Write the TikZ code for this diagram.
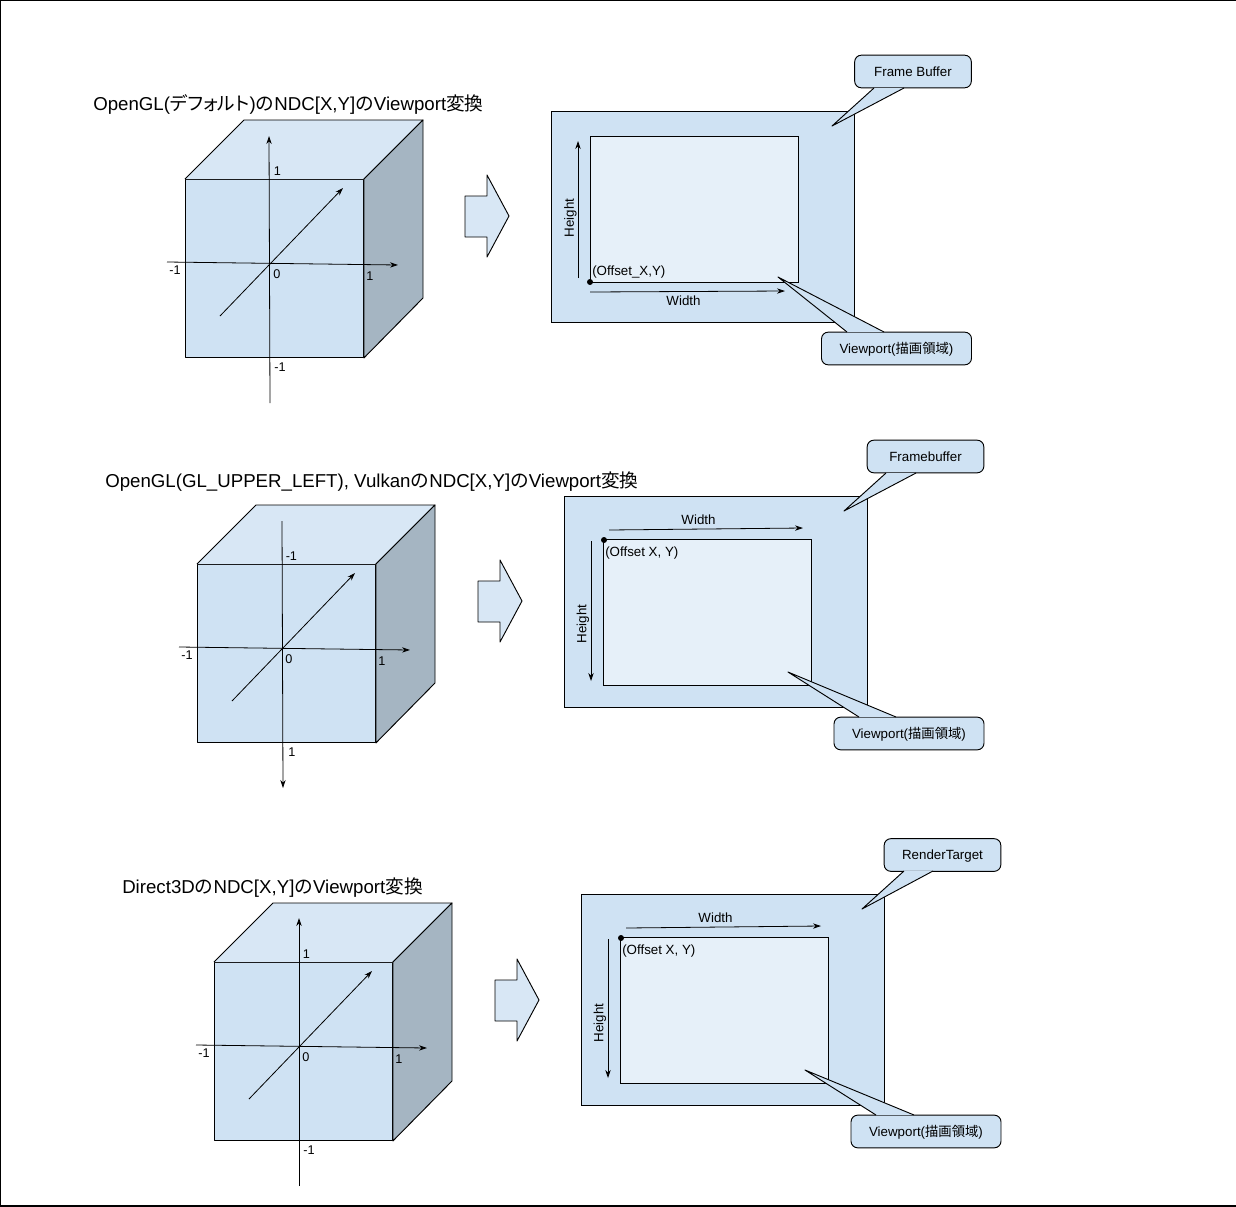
\documentclass[tikz,border=0pt]{standalone}
\usepackage{fontspec}
\setmainfont{Liberation Sans}
\newfontfamily\cjk{Noto Sans CJK JP}
\newfontfamily\kana[RawFeature={+palt}]{Noto Sans CJK JP}
\usetikzlibrary{arrows.meta}

\definecolor{paleblue}{HTML}{CFE2F3}
\definecolor{topblue}{HTML}{D8E7F5}
\definecolor{sideblue}{HTML}{A5B5C2}
\definecolor{innerblue}{HTML}{E6F0F9}

\tikzset{
  axis/.style={-{Stealth[length=6pt,width=4pt]},line width=.6pt},
  label/.style={inner sep=0pt,text height=6.8pt,text depth=0pt,font=\fontsize{9.5}{11}\selectfont},
  small/.style={inner sep=0pt,text height=7.2pt,text depth=0pt,font=\fontsize{10}{12}\selectfont},
  title/.style={inner sep=0pt,anchor=west,text height=10pt,text depth=0pt,font=\fontsize{14}{17}\selectfont},
  outer/.style={draw,fill=paleblue,line width=.7pt,minimum width=227.25pt,minimum height=158.25pt,inner sep=0pt},
  inner/.style={draw,fill=innerblue,line width=.7pt,minimum width=156pt,minimum height=109.5pt,inner sep=0pt},
  face/.style={draw,line width=.7pt,line join=round},
  bubble/.style={draw,fill=paleblue,line width=.7pt,rounded corners=5pt,minimum height=24.5pt,inner sep=0pt,text height=7.2pt,text depth=0pt,font=\fontsize{10}{12}\selectfont},
  dot/.style={circle,fill=black,minimum size=4.5pt,inner sep=0pt}
}

% cube with its axes: name, x, y of front corner, label on top, label at bottom
\newcommand{\ndccube}[5]{
  \begin{scope}[shift={(#2,#3)}]
    \node[face,fill=paleblue,minimum size=133.5pt,inner sep=0pt,anchor=north west] (#1front) at (0,0) {};
    \fill[topblue] (#1front.north west) -- (59,-59) -- (238,-59) -- (#1front.north east) -- cycle;
    \draw[face] (#1front.north west) -- (59,-59) -- (238,-59) -- (#1front.north east);
    \draw[face,fill=sideblue] (#1front.north east) -- (238,-59) -- (238,119) -- (#1front.south east) -- cycle;
    \coordinate (#1xl) at (-18,83);
    \coordinate (#1xr) at (213,86);
    \coordinate (#1zl) at (35,137);
    \coordinate (#1zr) at (158,9);
    \draw[axis] (#1xl) -- (#1xr);
    \draw[axis] (#1zl) -- (#1zr);
    \node[label,anchor=west] (#1top) at (88.5,-8) {#4};
    \node[label] (#1left) at (-10,90.5) {-1};
    \node[label] (#1zero) at (92,94.5) {0};
    \node[label] (#1right) at (185,96.5) {1};
    \node[label] (#1bottom) at (95,188) {#5};
  \end{scope}
}

% block arrow between cube and frame
\newcommand{\blockarrow}[2]{
  \draw[face,fill=topblue,shift={(#1,#2)}] (0,21) -- (22,21) -- (22,0) -- (44,41) -- (22,82) -- (22,62) -- (0,62) -- cycle;
}

% tail of a bubble: bubble name, base left, tip, base right
\newcommand{\bubbletail}[4]{
  \fill[paleblue] (#2) -- (#3) -- (#4) -- cycle;
  \draw[line width=.7pt,line join=round] (#2) -- (#3) -- (#4);
}

\begin{document}
\begin{tikzpicture}[x=.75pt,y=-.75pt]
  \useasboundingbox (0,0) rectangle (1236,1207);
  \draw[line width=1pt] (1236,0.5) -- (0.5,0.5) -- (0.5,1206) -- (1236,1206);

  % OpenGL default
  \node[title] (title1) at (93,104) {OpenGL({\kana デフォルト}){\cjk の}NDC[X,Y]{\cjk の}Viewport{\cjk 変換}};
  \ndccube{a}{185}{179}{1}{-1}
  \coordinate (ay0) at (270,403);
  \coordinate (ay1) at (269,136);
  \draw[axis] (ay0) -- (ay1);
  \blockarrow{465}{175}

  \node[outer] (frame1) at (703,216.5) {};
  \node[inner] (view1) at (694,209) {};
  \node[dot] (origin1) at (590,282) {};
  \node[small,anchor=west] (offset1) at (592,270.5) {(Offset\_X,Y)};
  \coordinate (h1a) at (578,278);
  \coordinate (h1b) at (578,141);
  \coordinate (w1a) at (590,292);
  \coordinate (w1b) at (785,291);
  \draw[axis] (h1a) -- (h1b);
  \draw[axis] (w1a) -- (w1b);
  \node[small,rotate=90] (height1) at (569,218) {Height};
  \node[small] (width1) at (683.5,300.5) {Width};

  \node[bubble,minimum width=87.5pt] (fb1) at (913,71.5) {Frame Buffer};
  \coordinate (fb1l) at (874,88);
  \coordinate (fb1t) at (832,126);
  \coordinate (fb1r) at (904,88);
  \bubbletail{fb1}{fb1l}{fb1t}{fb1r}
  \node[bubble,minimum width=112.5pt] (vp1) at (896.5,348.5) {Viewport({\cjk 描画領域})};
  \coordinate (vp1l) at (847,332);
  \coordinate (vp1t) at (778,277);
  \coordinate (vp1r) at (884,332);
  \bubbletail{vp1}{vp1l}{vp1t}{vp1r}

  % OpenGL upper left and Vulkan
  \node[title] (title2) at (105,481) {OpenGL(GL\_UPPER\_LEFT), Vulkan{\cjk の}NDC[X,Y]{\cjk の}Viewport{\cjk 変換}};
  \ndccube{b}{197}{564}{-1}{1}
  \coordinate (by0) at (282,521);
  \coordinate (by1) at (283,788);
  \draw[axis] (by0) -- (by1);
  \blockarrow{478}{560}

  \node[outer] (frame2) at (715.5,601.5) {};
  \node[inner] (view2) at (707,612.7) {};
  \node[dot] (origin2) at (604,540) {};
  \node[small,anchor=west] (offset2) at (605,551.5) {(Offset X, Y)};
  \coordinate (h2a) at (591,541);
  \coordinate (h2b) at (591,681);
  \coordinate (w2a) at (609,530);
  \coordinate (w2b) at (803,528);
  \draw[axis] (h2a) -- (h2b);
  \draw[axis] (w2a) -- (w2b);
  \node[small,rotate=90] (height2) at (581.5,624) {Height};
  \node[small] (width2) at (698.5,519.5) {Width};

  \node[bubble,minimum width=87.5pt] (fb2) at (925.5,456.5) {Framebuffer};
  \coordinate (fb2l) at (886,473);
  \coordinate (fb2t) at (844,511);
  \coordinate (fb2r) at (916,473);
  \bubbletail{fb2}{fb2l}{fb2t}{fb2r}
  \node[bubble,minimum width=112.5pt] (vp2) at (909,733.5) {Viewport({\cjk 描画領域})};
  \coordinate (vp2l) at (859,717);
  \coordinate (vp2t) at (788,672);
  \coordinate (vp2r) at (896,717);
  \bubbletail{vp2}{vp2l}{vp2t}{vp2r}

  % Direct3D
  \node[title] (title3) at (122,887) {Direct3D{\cjk の}NDC[X,Y]{\cjk の}Viewport{\cjk 変換}};
  \ndccube{c}{214}{962}{1}{-1}
  \coordinate (cy0) at (299,1186);
  \coordinate (cy1) at (299,918);
  \draw[axis] (cy0) -- (cy1);
  \blockarrow{495}{959}

  \node[outer] (frame3) at (732.5,999.5) {};
  \node[inner] (view3) at (724,1010.5) {};
  \node[dot] (origin3) at (621,938) {};
  \node[small,anchor=west] (offset3) at (622,949.5) {(Offset X, Y)};
  \coordinate (h3a) at (608,939);
  \coordinate (h3b) at (608,1078);
  \coordinate (w3a) at (626,928);
  \coordinate (w3b) at (821,926);
  \draw[axis] (h3a) -- (h3b);
  \draw[axis] (w3a) -- (w3b);
  \node[small,rotate=90] (height3) at (598.5,1023) {Height};
  \node[small] (width3) at (715.5,917.5) {Width};

  \node[bubble,minimum width=87.5pt] (fb3) at (942.5,855) {RenderTarget};
  \coordinate (fb3l) at (904,871);
  \coordinate (fb3t) at (862,909);
  \coordinate (fb3r) at (933,871);
  \bubbletail{fb3}{fb3l}{fb3t}{fb3r}
  \node[bubble,minimum width=112.5pt] (vp3) at (926,1131.5) {Viewport({\cjk 描画領域})};
  \coordinate (vp3l) at (876,1115);
  \coordinate (vp3t) at (805,1070);
  \coordinate (vp3r) at (914,1115);
  \bubbletail{vp3}{vp3l}{vp3t}{vp3r}
\end{tikzpicture}
\end{document}
